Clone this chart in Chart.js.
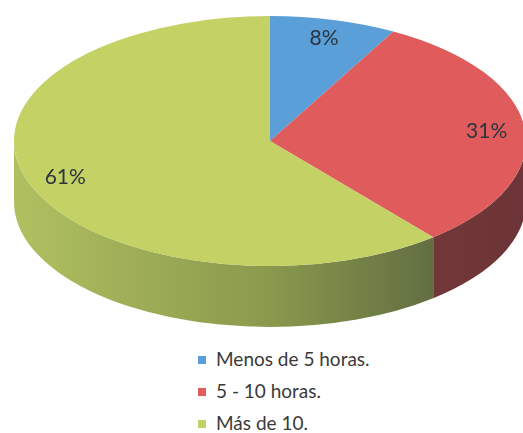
<!DOCTYPE html>
<html>
<head>
<meta charset="utf-8">
<script src="https://cdn.jsdelivr.net/npm/chart.js@4/dist/chart.umd.min.js"></script>
<style>
  body { margin: 0; background: #fff; }
  #wrap { position: relative; width: 523px; height: 433px; overflow: hidden; }
  #pie { position: absolute; left: 0; top: 0; }
  #legend { position: absolute; left: 198px; top: 345px; font-family: Lato, sans-serif; font-size: 19px; color: #3a3a3a; }
  #legend div { height: 32px; line-height: 28px; white-space: nowrap; }
  #legend span { display: inline-block; width: 8px; height: 8px; margin-right: 10px; vertical-align: 2px; }
</style>
</head>
<body>
<div id="wrap">
  <canvas id="pie" width="523" height="340"></canvas>
  <div id="legend"></div>
</div>
<script>
const labels = ['Menos de 5 horas.', '5 - 10 horas.', 'Más de 10.'];
const values = [8, 31, 61];
const pctLabels = ['8%', '31%', '61%'];

const topColors = ['#5b9fd9', '#e05c5c', '#c4d164'];

// where the flattened pie sits on screen
const cx = 270, cy = 141, rx = 256, ry = 125, depth = 61;

function applyTilt(ctx, arc) {
    const R = arc.outerRadius;
    ctx.translate(cx, cy);
    ctx.scale(rx / R, ry / R);
    ctx.translate(-arc.x, -arc.y);
}

const tilt3d = {
    id: 'tilt3d',
    beforeDatasetsDraw(chart) {
        const ctx = chart.ctx;
        const meta = chart.getDatasetMeta(0);
        const first = meta.data[0];
        const R = first.outerRadius;
        const D = depth * R / ry;
        ctx.save();
        applyTilt(ctx, first);
        meta.data.forEach((arc, i) => {
            const a1 = Math.max(arc.startAngle, 0);
            const a2 = Math.min(arc.endAngle, Math.PI);
            if (a2 <= a1) return;
            const g = ctx.createLinearGradient(arc.x - R, 0, arc.x + R, 0);
            if (i == 2) {
                g.addColorStop(0, '#b0c060');
                g.addColorStop(0.5, '#8a994c');
                g.addColorStop(0.85, '#5e6a41');
                g.addColorStop(1, '#58633c');
            } else {
                g.addColorStop(0, '#8a4646');
                g.addColorStop(1, '#6c3436');
            }
            ctx.beginPath();
            ctx.arc(arc.x, arc.y, R, a1, a2);
            ctx.lineTo(arc.x + R * Math.cos(a2), arc.y + R * Math.sin(a2) + D);
            ctx.arc(arc.x, arc.y + D, R, a2, a1, true);
            ctx.closePath();
            ctx.fillStyle = g;
            ctx.fill();
        });
        ctx.restore();
        // tilt the top face
        ctx.save();
        applyTilt(ctx, first);
    },
    afterDatasetsDraw(chart) {
        const ctx = chart.ctx;
        ctx.restore();
        const meta = chart.getDatasetMeta(0);
        ctx.save();
        ctx.font = '21px Lato, sans-serif';
        ctx.fillStyle = '#2a3540';
        ctx.textAlign = 'center';
        ctx.textBaseline = 'middle';
        meta.data.forEach((arc, i) => {
            const m = (arc.startAngle + arc.endAngle) / 2;
            ctx.fillText(pctLabels[i], cx + rx * 0.85 * Math.cos(m), cy + ry * 0.85 * Math.sin(m));
        });
        ctx.restore();
    }
};

const pieChart = new Chart(document.getElementById('pie').getContext('2d'), {
    type: 'pie',
    data: {
        labels: labels,
        datasets: [{
            data: values,
            backgroundColor: topColors,
            borderWidth: 0,
            clip: false
        }]
    },
    options: {
        responsive: false,
        animation: false,
        layout: { padding: 0 },
        plugins: {
            legend: { display: false },
            tooltip: { enabled: false }
        }
    },
    plugins: [tilt3d]
});

// legend, built from the chart's own labels
const legendEl = document.getElementById('legend');
pieChart.data.labels.forEach((lab, i) => {
    const row = document.createElement('div');
    const box = document.createElement('span');
    box.style.background = topColors[i];
    row.appendChild(box);
    row.appendChild(document.createTextNode(lab));
    legendEl.appendChild(row);
});
</script>
</body>
</html>
